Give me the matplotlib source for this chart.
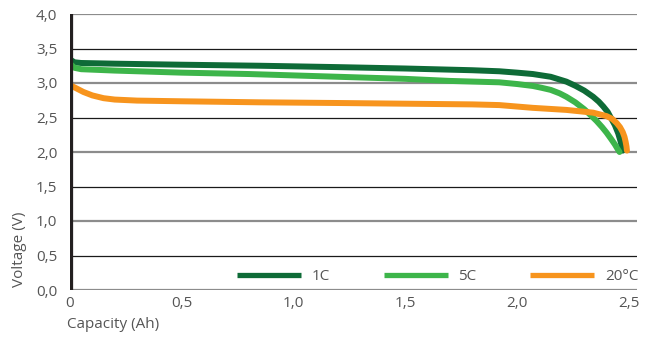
import matplotlib
matplotlib.use("Agg")
import matplotlib.pyplot as plt

plt.rcParams['font.family'] = ['Open Sans', 'DejaVu Sans']

# Discharge curves: capacity (Ah) vs voltage (V)
cap_1c = [0, 0.02, 0.05, 0.2, 0.5, 0.85, 1.2, 1.5, 1.8, 1.92, 2.0, 2.07, 2.11, 2.15,
          2.19, 2.22, 2.26, 2.30, 2.34, 2.365, 2.385, 2.405, 2.42, 2.437, 2.452,
          2.463, 2.472]
volt_1c = [3.34, 3.30, 3.29, 3.28, 3.265, 3.25, 3.23, 3.21, 3.185, 3.17, 3.15, 3.13,
           3.11, 3.09, 3.05, 3.02, 2.96, 2.89, 2.80, 2.73, 2.66, 2.58, 2.49, 2.39,
           2.27, 2.15, 2.02]

cap_5c = [0, 0.02, 0.05, 0.2, 0.5, 0.8, 1.2, 1.5, 1.7, 1.92, 2.0, 2.07, 2.11, 2.15,
          2.19, 2.22, 2.26, 2.30, 2.33, 2.355, 2.38, 2.40, 2.42, 2.437, 2.45, 2.458]
volt_5c = [3.28, 3.22, 3.20, 3.18, 3.15, 3.13, 3.09, 3.06, 3.03, 3.01, 2.985, 2.957,
           2.93, 2.90, 2.85, 2.80, 2.72, 2.62, 2.53, 2.45, 2.36, 2.28, 2.19, 2.11,
           2.04, 2.0]

cap_20 = [0, 0.03, 0.06, 0.10, 0.15, 0.2, 0.3, 0.5, 0.85, 1.2, 1.5, 1.8, 1.92, 2.07,
          2.22, 2.34, 2.40, 2.425, 2.445, 2.46, 2.472, 2.48, 2.485, 2.489, 2.491]
volt_20 = [2.97, 2.92, 2.87, 2.82, 2.78, 2.76, 2.745, 2.735, 2.72, 2.71, 2.70, 2.69,
           2.68, 2.64, 2.61, 2.57, 2.52, 2.48, 2.42, 2.36, 2.29, 2.22, 2.15, 2.08, 2.02]

series_labels = ['1C', '5C', '20°C']
series_colors = ['#0e6b37', '#3db54a', '#f7941d']

x_ticks = [0, 0.5, 1.0, 1.5, 2.0, 2.5]
x_tick_labels = ['0', '0,5', '1,0', '1,5', '2,0', '2,5']
y_ticks = [0, 0.5, 1.0, 1.5, 2.0, 2.5, 3.0, 3.5, 4.0]
y_tick_labels = ['0,0', '0,5', '1,0', '1,5', '2,0', '2,5', '3,0', '3,5', '4,0']

W, H = 652, 337
fig = plt.figure(figsize=(W / 100, H / 100), dpi=100)
ax = fig.add_axes([70 / W, 47 / H, 567 / W, 276 / H])
ax.set_xlim(0, 2.536)
ax.set_ylim(0, 4.0)

for s in ax.spines.values():
    s.set_visible(False)

# horizontal grid: grey at whole volts, dark at half volts
for yv in y_ticks:
    if abs(yv - round(yv)) < 1e-9:
        ax.axhline(yv, color='#8c8c8c', lw=1.6, zorder=1)
    else:
        ax.axhline(yv, color='#1a1a1a', lw=0.9, zorder=1)

lw = 4.3
for xs, ys, lab, col in zip([cap_1c, cap_5c, cap_20], [volt_1c, volt_5c, volt_20],
                            series_labels, series_colors):
    ax.plot(xs, ys, color=col, lw=lw, label=lab, solid_capstyle='round',
            solid_joinstyle='round', zorder=3)

# thick vertical axis bar
ax.axvline(0, color='#231f20', lw=4.5, zorder=4, solid_capstyle='butt')

ax.set_xticks(x_ticks)
ax.set_xticklabels(x_tick_labels)
ax.set_yticks(y_ticks)
ax.set_yticklabels(y_tick_labels)
ax.tick_params(axis='both', length=0, labelsize=11, labelcolor='#555555')
ax.tick_params(axis='y', pad=9)
ax.tick_params(axis='x', pad=4)

fig.text(67 / W, 1 - 325 / H, 'Capacity (Ah)', fontsize=11, color='#555555',
         ha='left', va='center')
fig.text(20 / W, 1 - 249 / H, 'Voltage (V)', fontsize=11, color='#555555',
         ha='center', va='center', rotation=90)

leg = ax.legend(loc='center left', bbox_to_anchor=((237 - 70) / 567, 13 / 276),
                ncol=3, frameon=False, fontsize=11, handlelength=4.2,
                handletextpad=0.7, columnspacing=3.5, borderpad=0, borderaxespad=0)
for t in leg.get_texts():
    t.set_color('#555555')
for l in leg.get_lines():
    l.set_linewidth(3.8)
    l.set_solid_capstyle('butt')

fig.savefig('out.png', dpi=100)
